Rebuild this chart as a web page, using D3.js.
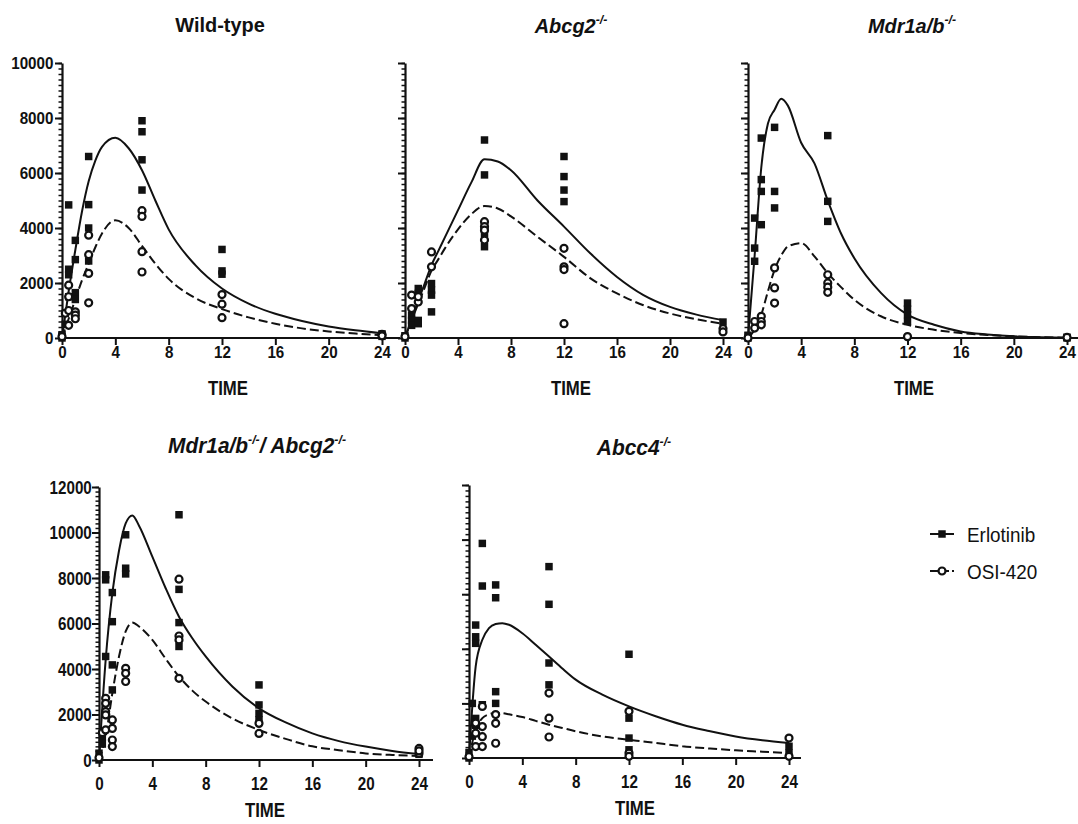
<!DOCTYPE html>
<html>
<head>
<meta charset="utf-8">
<script src="https://cdn.jsdelivr.net/npm/d3@7"></script>
<style>
  body { margin: 0; background: #fff; }
  svg { display: block; font-family: "Liberation Sans", Arial, sans-serif; }
</style>
</head>
<body>
<svg id="chart" width="1078" height="824"></svg>
<script>
// time grid of the fitted curves (hours)
var fitTimes = [0, 0.5, 1, 1.5, 2, 2.5, 3, 4, 5, 6, 7, 8, 10, 12, 14, 16, 18, 20, 22, 24];
var xTicks = [0, 4, 8, 12, 16, 20, 24];

// Wild-type
var wtErlo = [[0,0],[0,60],[0,120],[0.25,500],[0.25,900],[0.5,4840],[0.5,2500],[0.5,2300],[0.5,1500],[1,3550],[1,2850],[1,1650],[1,1400],[1,900],
  [2,6600],[2,4850],[2,4000],[2,2800],[6,7900],[6,7500],[6,6480],[6,5380],[12,3220],[12,2440],[12,2320],[24,150],[24,100],[24,60]];
var wtOsi = [[0,50],[0.25,900],[0.5,1920],[0.5,1500],[0.5,1000],[0.5,460],[1,950],[1,830],[1,700],[2,3740],[2,3030],[2,2350],[2,1280],
  [6,4630],[6,4420],[6,3140],[6,2400],[12,1580],[12,1230],[12,740],[24,130],[24,80]];
var wtErloFit = [0,1700,3200,4600,5700,6450,6950,7280,6900,6100,5000,3950,2650,1800,1250,880,620,420,280,170];
var wtOsiFit = [0,700,1400,2100,2700,3300,3800,4280,4000,3350,2700,2150,1450,1050,750,520,350,240,160,100];

// Abcg2-/-
var abcg2Erlo = [[0,0],[0,80],[0.5,830],[0.5,640],[0.5,460],[1,1800],[1,1620],[1,640],[1,520],[2,1980],[2,1740],[2,1560],[2,950],
  [6,7200],[6,5930],[6,4100],[6,3800],[6,3320],[12,6600],[12,5870],[12,5380],[12,4960],[24,580],[24,280]];
var abcg2Osi = [[0,50],[0.5,1560],[0.5,1070],[1,1310],[1,1500],[2,3130],[2,2590],[6,4230],[6,4050],[6,3920],[6,3560],
  [12,3260],[12,2590],[12,2490],[12,520],[24,340],[24,220]];
var abcg2ErloFit = [0,700,1350,2000,2650,3150,3650,4650,5650,6500,6420,6100,5000,4050,3070,2220,1560,1130,850,650];
var abcg2OsiFit = [0,650,1250,1850,2450,2850,3250,3950,4500,4800,4710,4420,3680,2950,2170,1620,1190,890,680,520];

// Mdr1a/b-/-
var mdrErlo = [[0,0],[0,100],[0.5,4360],[0.5,3270],[0.5,2790],[1,7270],[1,5760],[1,5330],[1,4120],[2,7660],[2,5330],[2,4730],
  [6,7360],[6,4970],[6,4240],[12,1270],[12,1050],[12,850],[12,600],[24,30],[24,0]];
var mdrOsi = [[0,0],[0.5,600],[0.5,360],[1,790],[1,600],[1,480],[2,2550],[2,1820],[2,1270],[6,2300],[6,2000],[6,1850],[6,1660],[12,50],[24,20]];
var mdrErloFit = [0,3000,6200,7800,8300,8700,8450,7100,6350,5000,3800,2900,1640,850,480,240,130,60,30,10];
var mdrOsiFit = [0,300,850,1700,2480,3000,3330,3450,2970,2360,1850,1390,790,480,300,180,110,60,30,10];

// Mdr1a/b-/- / Abcg2-/-
var dkoErlo = [[0,0],[0,300],[0.25,700],[0.25,1000],[0.5,8140],[0.5,7920],[0.5,4550],[1,7360],[1,6080],[1,4180],[1,3080],
  [2,9900],[2,8430],[2,8180],[6,10780],[6,7500],[6,6040],[6,4990],[12,3300],[12,2420],[12,2050],[12,1760],[24,300],[24,250]];
var dkoOsi = [[0,100],[0.25,1200],[0.5,2710],[0.5,2490],[0.5,2130],[0.5,1980],[0.5,1320],[1,1760],[1,1390],[1,880],[1,590],
  [2,4030],[2,3810],[2,3450],[6,7950],[6,5450],[6,5280],[6,3590],[12,1610],[12,1170],[24,510],[24,290],[24,400]];
var dkoErloFit = [0,4400,7330,9200,10400,10750,10300,8940,7550,6300,5350,4550,3230,2270,1650,1170,830,590,400,260];
var dkoOsiFit = [0,1030,2930,4550,5650,6040,5870,5280,4450,3670,3050,2570,1830,1320,930,600,430,290,220,180];

// Abcc4-/-
var abcc4Erlo = [[0,0],[0,200],[0.25,2000],[0.25,800],[0.5,4870],[0.5,4440],[0.5,4200],[0.5,1450],[0.5,1200],[1,7860],[1,6300],[1,1950],
  [2,6340],[2,5870],[2,2430],[2,2000],[6,7010],[6,5630],[6,3480],[6,2680],[12,3800],[12,1460],[12,730],[12,300],[24,430],[24,180]];
var abcc4Osi = [[0,50],[0.5,1280],[0.5,910],[0.5,420],[1,1890],[1,1150],[1,780],[1,420],[2,1590],[2,1270],[2,540],
  [6,2380],[6,1460],[6,770],[12,1710],[12,180],[12,60],[24,730],[24,60]];
var abcc4ErloFit = [0,3350,4330,4760,4910,4940,4880,4570,4150,3720,3280,2870,2320,1890,1530,1220,990,790,650,550];
var abcc4OsiFit = [0,1040,1460,1600,1650,1640,1600,1500,1360,1220,1100,980,790,670,550,430,350,280,230,180];

var seriesNames = ["Erlotinib", "OSI-420"];

var svg = d3.select("#chart");

// row styles (the two rows of the figure were set at different type sizes)
var topRow = {tick: 16, tickSx: 0.95, xLab: 20};
var botRow = {tick: 19, tickSx: 0.8, xLab: 30};

var panels = [
  {title: [["Wild-type", 0]], italic: false, x0: 62, x24: 382, extra: 18, yTop: 63, yBot: 338, yMax: 10000, labels: true, row: topRow,
    titleX: 220, titleY: 32, titleSize: 21, erlo: wtErlo, osi: wtOsi, erloFit: wtErloFit, osiFit: wtOsiFit},
  {title: [["Abcg2", 0], ["-/-", 1]], italic: true, x0: 405, x24: 723, extra: 20, yTop: 63, yBot: 338, yMax: 10000, labels: false, row: topRow,
    titleX: 571, titleY: 33, titleSize: 21, erlo: abcg2Erlo, osi: abcg2Osi, erloFit: abcg2ErloFit, osiFit: abcg2OsiFit},
  {title: [["Mdr1a/b", 0], ["-/-", 1]], italic: true, x0: 748, x24: 1067, extra: 12, yTop: 63, yBot: 338, yMax: 10000, labels: false, row: topRow,
    titleX: 912, titleY: 33, titleSize: 21, erlo: mdrErlo, osi: mdrOsi, erloFit: mdrErloFit, osiFit: mdrOsiFit},
  {title: [["Mdr1a/b", 0], ["-/-", 1], ["/ Abcg2", 0], ["-/-", 1]], italic: true, x0: 99, x24: 419, extra: 14, yTop: 487, yBot: 760, yMax: 12000, labels: true, row: botRow,
    titleX: 257, titleY: 453, titleSize: 22, erlo: dkoErlo, osi: dkoOsi, erloFit: dkoErloFit, osiFit: dkoOsiFit},
  {title: [["Abcc4", 0], ["-/-", 1]], italic: true, x0: 469, x24: 789, extra: 12, yTop: 485, yBot: 758, yMax: 10000, labels: false, row: botRow,
    titleX: 634, titleY: 455, titleSize: 22, erlo: abcc4Erlo, osi: abcc4Osi, erloFit: abcc4ErloFit, osiFit: abcc4OsiFit}
];

function squareSym() { return d3.symbol().type(d3.symbolSquare).size(56)(); }

panels.forEach(function(p) {
  var x = d3.scaleLinear().domain([0, 24]).range([p.x0, p.x24]);
  var y = d3.scaleLinear().domain([0, p.yMax]).range([p.yBot, p.yTop]);
  var g = svg.append("g");

  // title, superscripts raised
  var t = g.append("text")
    .attr("transform", "translate(" + p.titleX + "," + p.titleY + ") scale(0.95,1)")
    .attr("text-anchor", "middle")
    .attr("fill", "#111")
    .style("font-size", p.titleSize + "px")
    .style("font-weight", "bold")
    .style("font-style", p.italic ? "italic" : "normal");
  var raised = 0;
  p.title.forEach(function(part) {
    var s = t.append("tspan").text(part[0]);
    if (part[1]) {
      s.attr("dy", -9).style("font-size", "13px");
      raised = 1;
    } else if (raised) {
      s.attr("dy", 9);
      raised = 0;
    }
  });

  // curves
  var line = d3.line().x(function(d, i) { return x(fitTimes[i]); }).y(function(d) { return y(d); }).curve(d3.curveMonotoneX);
  g.append("path").attr("d", line(p.erloFit)).attr("fill", "none").attr("stroke", "#111").attr("stroke-width", 2);
  g.append("path").attr("d", line(p.osiFit)).attr("fill", "none").attr("stroke", "#111").attr("stroke-width", 2)
    .attr("stroke-dasharray", "9,4");

  // y axis: minor then major
  var minor = d3.axisLeft(y).tickValues(d3.range(0, p.yMax + 1, 200)).tickSize(3.5).tickFormat("");
  g.append("g").attr("transform", "translate(" + p.x0 + ",0)").call(minor)
    .call(function(a) { a.select(".domain").remove(); a.selectAll("line").attr("stroke", "#111").attr("stroke-width", 1.5); });
  var major = d3.axisLeft(y).tickValues(d3.range(0, p.yMax + 1, 2000)).tickSize(7).tickSizeOuter(0).tickPadding(3)
    .tickFormat(p.labels ? d3.format("d") : "");
  var ya = g.append("g").attr("transform", "translate(" + p.x0 + ",0)").call(major);
  ya.select(".domain").attr("stroke", "#111").attr("stroke-width", 2.2);
  ya.selectAll("line").attr("stroke", "#111").attr("stroke-width", 2);
  ya.selectAll("text").attr("fill", "#111").style("font-size", p.row.tick + "px").style("font-weight", "bold")
    .attr("x", -9).attr("transform", "scale(" + p.row.tickSx + ",1)");

  // x axis
  var xa = g.append("g").attr("transform", "translate(0," + p.yBot + ")")
    .call(d3.axisBottom(x).tickValues(xTicks).tickSize(7).tickSizeOuter(0));
  xa.select(".domain").attr("d", "M" + (p.x0 - 1) + ",0H" + (p.x24 + p.extra)).attr("stroke", "#111").attr("stroke-width", 2.2);
  xa.selectAll("line").attr("stroke", "#111").attr("stroke-width", 2);
  xa.selectAll("text").attr("fill", "#111").style("font-size", p.row.tick + "px").style("font-weight", "bold")
    .attr("y", p.row.xLab).attr("dy", null).attr("transform", "scale(" + p.row.tickSx + ",1)");

  g.append("text")
    .attr("transform", "translate(" + (p.x0 + 166) + "," + (p.yBot + 57) + ") scale(0.8,1)")
    .attr("text-anchor", "middle").style("font-size", "21px").style("font-weight", "bold").attr("fill", "#111")
    .text("TIME");

  // points
  g.selectAll(".sq").data(p.erlo).enter().append("path")
    .attr("d", squareSym())
    .attr("transform", function(d) { return "translate(" + x(d[0]) + "," + y(d[1]) + ")"; })
    .attr("fill", "#111");
  g.selectAll(".ci").data(p.osi).enter().append("circle")
    .attr("cx", function(d) { return x(d[0]); })
    .attr("cy", function(d) { return y(d[1]); })
    .attr("r", 3.5).attr("fill", "#fff").attr("stroke", "#111").attr("stroke-width", 2.2);
});

// legend
var leg = svg.append("g").attr("transform", "translate(930,534)");
seriesNames.forEach(function(name, i) {
  var r = leg.append("g").attr("transform", "translate(0," + (i * 37) + ")");
  r.append("line").attr("x1", 0).attr("x2", 24).attr("stroke", "#111").attr("stroke-width", 2)
    .attr("stroke-dasharray", i ? "8,3" : null);
  if (i == 0) {
    r.append("path").attr("d", squareSym()).attr("transform", "translate(12,0)").attr("fill", "#111");
  } else {
    r.append("circle").attr("cx", 12).attr("r", 3.5).attr("fill", "#fff").attr("stroke", "#111").attr("stroke-width", 2.2);
  }
  r.append("text").attr("transform", "translate(37,8) scale(0.9,1)")
    .style("font-size", "21px").attr("fill", "#111").text(name);
});
</script>
</body>
</html>
